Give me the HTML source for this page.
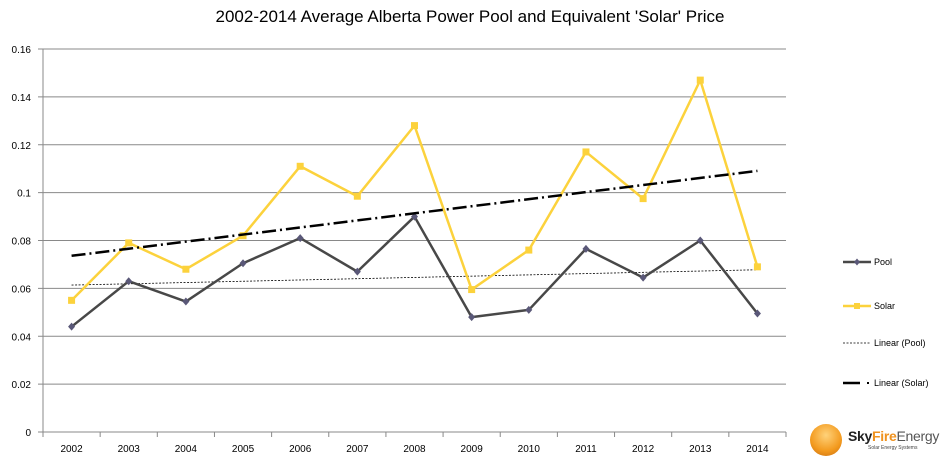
<!DOCTYPE html>
<html><head><meta charset="utf-8"><style>
body{margin:0;background:#fff;font-family:"Liberation Sans",sans-serif}
#wrap{position:relative;width:940px;height:466px;overflow:hidden}
</style></head><body>
<div id="wrap">
<svg id="svg" width="940" height="466" xmlns="http://www.w3.org/2000/svg"></svg>
<div style="position:absolute;left:808px;top:422px;width:130px;height:44px">
  <div style="position:absolute;left:2px;top:2px;width:32px;height:32px;border-radius:50%;background:radial-gradient(circle at 50% 35%,#ffd27a,#f39a1e 60%,#c56a10);"></div>
  <div style="position:absolute;left:40px;top:6px;font-weight:bold;font-size:14px;letter-spacing:-0.3px"><span style="color:#222">Sky</span><span style="color:#f0921e">Fire</span><span style="color:#555;font-weight:normal">Energy</span></div>
  <div style="position:absolute;left:60px;top:23px;font-size:5px;color:#444">Solar Energy Systems</div>
</div>
</div>
<script>
const years=["2002","2003","2004","2005","2006","2007","2008","2009","2010","2011","2012","2013","2014"];
const pool=[0.044,0.063,0.0545,0.0705,0.081,0.067,0.090,0.048,0.051,0.0765,0.0645,0.080,0.0495];
const solar=[0.055,0.079,0.068,0.082,0.111,0.0985,0.128,0.0595,0.076,0.117,0.0975,0.147,0.069];
const yTicks=[0,0.02,0.04,0.06,0.08,0.1,0.12,0.14,0.16];
const yTickLabels=["0","0.02","0.04","0.06","0.08","0.1","0.12","0.14","0.16"];

const NS="http://www.w3.org/2000/svg",svg=document.getElementById('svg');
const L=43,R=786,T=49,B=432,YMAX=0.16,step=(R-L)/years.length;
const x=i=>L+step*(i+0.5), y=v=>B-(v/YMAX)*(B-T);
function mk(tag,a,p){const e=document.createElementNS(NS,tag);for(const k in a)e.setAttribute(k,a[k]);(p||svg).appendChild(e);return e;}

let t=mk('text',{x:470,y:22,'text-anchor':'middle','font-size':17,fill:'#000'});

t.textContent="2002-2014 Average Alberta Power Pool and Equivalent 'Solar' Price";

yTicks.forEach((v,i)=>{
  const g=mk('line',{x1:L-5,x2:R,y1:y(v),y2:y(v),stroke:'#898989','stroke-width':1});
  
  const tx=mk('text',{x:31,y:y(v)+4,'text-anchor':'end','font-size':10,fill:'#000'});
  
  tx.textContent=yTickLabels[i];
});
let ax=mk('line',{x1:L,x2:L,y1:T,y2:B+5,stroke:'#898989'});

years.forEach((yr,i)=>{
  const tk=mk('line',{x1:L+step*i,x2:L+step*i,y1:B,y2:B+5,stroke:'#898989'});
  
  const tx=mk('text',{x:x(i),y:452,'text-anchor':'middle','font-size':10,fill:'#000'});
  
  tx.textContent=yr;
});
mk('line',{x1:R,x2:R,y1:B,y2:B+5,stroke:'#898989'});

function fit(arr){const n=arr.length;let sx=0,sy=0,sxy=0,sxx=0;arr.forEach((v,i)=>{sx+=i;sy+=v;sxy+=i*v;sxx+=i*i});const b=(n*sxy-sx*sy)/(n*sxx-sx*sx),a=(sy-b*sx)/n;return [a,a+b*(n-1)];}
const pf=fit(pool),sf=fit(solar),n=years.length-1;
let tp=mk('line',{x1:x(0),y1:y(pf[0]),x2:x(n),y2:y(pf[1]),stroke:'#000','stroke-width':0.8,'stroke-dasharray':'2,1.5'});


function series(arr,col,name,marker){
  const p=mk('polyline',{points:arr.map((v,i)=>x(i)+','+y(v)).join(' '),fill:'none',stroke:col,'stroke-width':2.5,'stroke-linejoin':'round'});
  
  arr.forEach((v,i)=>{let m;
    if(marker==='sq') m=mk('rect',{x:x(i)-3.5,y:y(v)-3.5,width:7,height:7,fill:col});
    else m=mk('polygon',{points:`${x(i)},${y(v)-4} ${x(i)+3.5},${y(v)} ${x(i)},${y(v)+4} ${x(i)-3.5},${y(v)}`,fill:'#5a5878'});
    
  });
}
series(solar,'#fcd23c','solar','sq');
series(pool,'#484848','pool','dia');
let ts=mk('line',{x1:x(0),y1:y(sf[0]),x2:x(n),y2:y(sf[1]),stroke:'#000','stroke-width':2.5,'stroke-dasharray':'14,4,2,4'});


const leg=[["Pool",262],["Solar",306],["Linear (Pool)",343],["Linear (Solar)",383]];
leg.forEach((e,i)=>{
  const yy=e[1];
  if(i===0){mk('line',{x1:843,x2:871,y1:yy,y2:yy,stroke:'#484848','stroke-width':2.5});mk('polygon',{points:`857,${yy-3.5} 860,${yy} 857,${yy+3.5} 854,${yy}`,fill:'#5a5878'});}
  if(i===1){mk('line',{x1:843,x2:871,y1:yy,y2:yy,stroke:'#fcd23c','stroke-width':2.5});mk('rect',{x:854,y:yy-3,width:6,height:6,fill:'#fcd23c'});}
  if(i===2){mk('line',{x1:843,x2:871,y1:yy,y2:yy,stroke:'#000','stroke-width':0.8,'stroke-dasharray':'2,1.5'});}
  if(i===3){mk('line',{x1:843,x2:860,y1:yy,y2:yy,stroke:'#000','stroke-width':2.5});mk('rect',{x:867,y:yy-1,width:2,height:2,fill:'#000'});}
  const tx=mk('text',{x:874,y:yy+3,'font-size':9,fill:'#000'});
  
  tx.textContent=e[0];
});
</script>
</body></html>
